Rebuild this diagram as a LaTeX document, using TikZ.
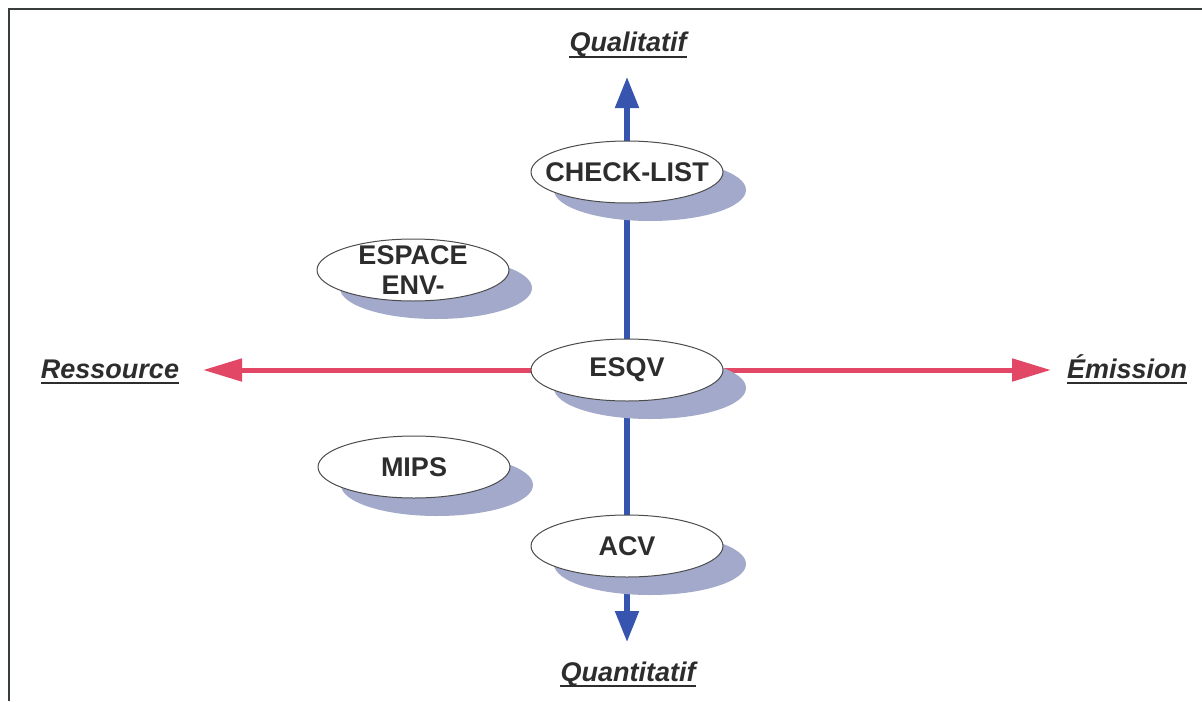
\documentclass[tikz,border=0pt]{standalone}
\usepackage{fontspec}
\setmainfont{Liberation Sans}
\usetikzlibrary{shapes.geometric,shadows,arrows.meta,backgrounds}
\definecolor{inkgray}{RGB}{45,45,45}
\definecolor{shadowblue}{RGB}{163,169,203}
\definecolor{axisblue}{RGB}{55,85,175}
\definecolor{axisred}{RGB}{226,72,102}
\definecolor{framegray}{RGB}{55,60,60}

\begin{document}
\begin{tikzpicture}[x=0.5pt,y=-0.5pt,
  method/.style={ellipse, draw=inkgray!85, line width=0.5pt, fill=white,
    minimum width=96pt, minimum height=31pt, inner xsep=-40pt, inner ysep=-30pt,
    align=center, font=\bfseries\fontsize{13.5}{15}\selectfont, text=inkgray,
    drop shadow={shadow xshift=11.5pt, shadow yshift=-9pt, fill=shadowblue, opacity=1}},
  axislabel/.style={inner sep=0pt, font=\bfseries\itshape\fontsize{13.5}{14}\selectfont, text=inkgray},
  underline/.style={draw=inkgray, line width=1pt},
  vaxis/.style={draw=axisblue, line width=2.6pt, -{Triangle[length=15.5pt,width=11.5pt]}},
  haxis/.style={draw=axisred, line width=2.5pt, -{Triangle[length=19.5pt,width=11pt]}},
]
\useasboundingbox (0,0) rectangle (1202,701);

% frame
\draw[framegray, line width=1.3pt] (1202,9) -- (9,9) -- (9,701);

% methods
\node[method] (chk)  at (627,172) {CHECK-LIST};
\node[method] (esp)  at (413,270) {ESPACE\\ENV-};
\node[method] (esqv) at (627,370) {ESQV};
\node[method] (mips) at (414,467) {MIPS};
\node[method] (acv)  at (627,546) {ACV};

% axis labels
\node[axislabel, anchor=base] (qual)  at (628,52)  {Qualitatif};
\node[axislabel, anchor=base] (quant) at (628,681) {Quantitatif};
\node[axislabel, anchor=base] (res)   at (110,378) {Ressource};
\node[axislabel, anchor=base] (emi)   at (1127,378) {Émission};
\foreach \l in {qual,quant,res,emi}
  \draw[underline] ([yshift=-2.6pt]\l.base west) -- ([yshift=-2.6pt]\l.base east);

% arrow tips
\coordinate (qtop) at (627,77);
\coordinate (qbot) at (627,642);
\coordinate (rtip) at (203,370);
\coordinate (etip) at (1051,370);

% axes behind the ellipses
\begin{pgfonlayer}{background}
  \draw[vaxis] (esqv.center) -- (qtop);
  \draw[vaxis] (esqv.center) -- (qbot);
  \draw[haxis] (esqv.center) -- (rtip);
  \draw[haxis] (esqv.center) -- (etip);
\end{pgfonlayer}
\end{tikzpicture}
\end{document}
